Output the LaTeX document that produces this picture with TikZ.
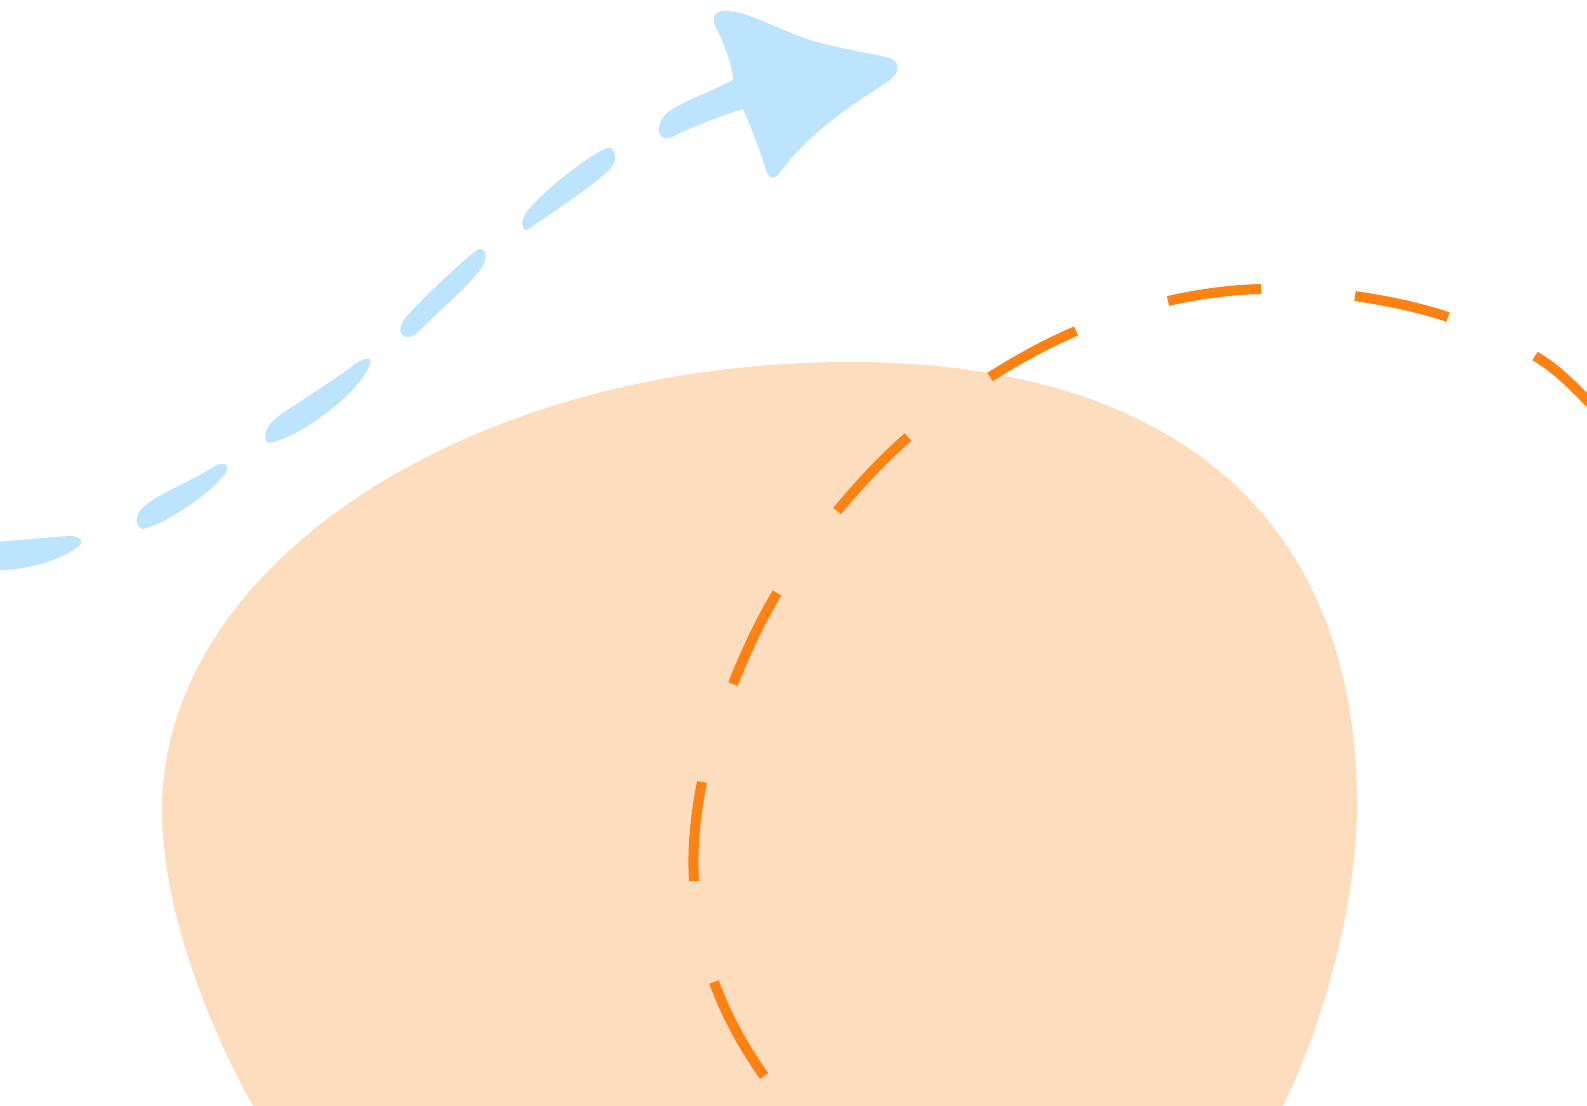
\documentclass[tikz,border=0pt]{standalone}
\definecolor{peach}{HTML}{FEDDBF}
\definecolor{dashorange}{HTML}{FD8211}
\definecolor{brushblue}{HTML}{BDE4FF}
\tikzset{
  blobfill/.style={fill=peach, draw=none},
  orangedash/.style={draw=dashorange, line width=0.2cm, line cap=butt},
  brush/.style={fill=brushblue, draw=none}
}
\begin{document}
\begin{tikzpicture}[x=0.02cm,y=-0.02cm]
\useasboundingbox (0,0) rectangle (1587,1106);
\clip (0,0) rectangle (1587,1106);
% peach blob
\path[blobfill] (253,1106) .. controls (200,1010) and (162,900) .. (162,810)
  .. controls (162,563) and (470,362) .. (850,362)
  .. controls (1170,362) and (1357,515) .. (1357,805)
  .. controls (1357,900) and (1325,1020) .. (1283,1106)
  -- (1270,1130) -- (266,1130) -- cycle;
% orange dashed arc, drawn dash by dash
\draw[orangedash] (764,1076) .. controls (743,1046) and (726,1015) .. (714,982);
\draw[orangedash] (694,881) .. controls (692,848) and (695.5,815) .. (702,782);
\draw[orangedash] (733,684) .. controls (745.5,652.5) and (759.7,621.8) .. (777,593);
\draw[orangedash] (837,511) .. controls (858.8,485) and (882.5,459.3) .. (908,437);
\draw[orangedash] (990,377) .. controls (1018,359.3) and (1046.3,343.7) .. (1076,331);
\draw[orangedash] (1168,301) .. controls (1198.8,294) and (1229.8,289.8) .. (1261,289);
\draw[orangedash] (1355,296) .. controls (1386.2,300.7) and (1418,307) .. (1448,317);
\draw[orangedash] (1535,356) .. controls (1558.2,369.8) and (1573,386) .. (1592,405);
% blue brush strokes
\path[brush] (-5,542) .. controls (20,540) and (50,537) .. (70,536) .. controls (80,536) and (85,541) .. (79,546) .. controls (65,558) and (30,570) .. (0,570) -- (-5,570) -- cycle;
\path[brush] (143,529) .. controls (135,528) and (133,514) .. (147,504) .. controls (165,491) and (195,479) .. (215,466) .. controls (224,461) and (230,465) .. (226,472) .. controls (215,490) and (170,522) .. (143,529) -- cycle;
\path[brush] (270,443) .. controls (262,442) and (264,428) .. (276,418) .. controls (295,404) and (335,380) .. (355,364) .. controls (366,356) and (374,357) .. (369,367) .. controls (358,392) and (305,435) .. (270,443) -- cycle;
\path[brush] (408,337) .. controls (398,337) and (398,325) .. (407,316) .. controls (425,296) and (460,263) .. (477,250) .. controls (483,246) and (487,252) .. (485,260) .. controls (482,275) and (445,305) .. (420,330) .. controls (415,335) and (412,337) .. (408,337) -- cycle;
\path[brush] (525,230) .. controls (520,226) and (522,216) .. (530,208) .. controls (550,185) and (590,155) .. (607,148) .. controls (614,146) and (617,157) .. (614,164) .. controls (608,174) and (572,200) .. (537,223) .. controls (531,227) and (528,230) .. (525,230) -- cycle;
% arrow with head
\path[brush] (665,138) .. controls (655,137) and (658,120) .. (668,112)
  .. controls (685,100) and (715,90) .. (733,80)
  .. controls (733,68) and (724,42) .. (716,28)
  .. controls (710,16) and (716,9) .. (730,11)
  .. controls (752,14) and (780,30) .. (810,40)
  .. controls (840,49) and (875,54) .. (890,58)
  .. controls (901,62) and (899,73) .. (890,80)
  .. controls (860,100) and (810,130) .. (778,175)
  .. controls (772,180) and (768,178) .. (766,170)
  .. controls (760,150) and (750,125) .. (743,109)
  .. controls (720,116) and (690,128) .. (672,137)
  .. controls (669,138) and (667,138) .. (665,138) -- cycle;
\end{tikzpicture}
\end{document}
